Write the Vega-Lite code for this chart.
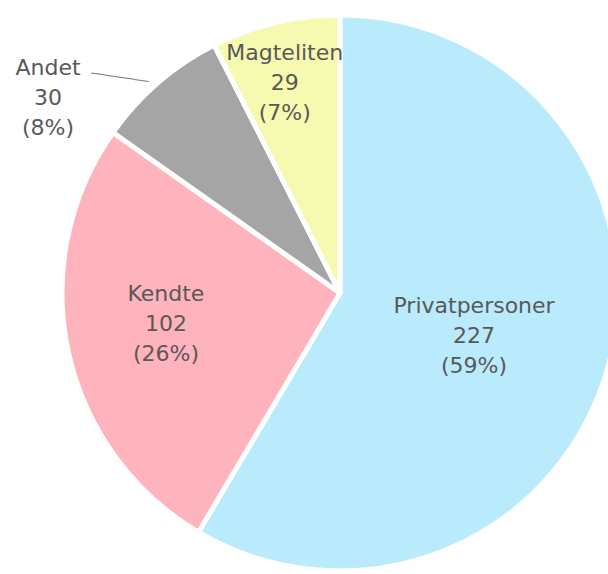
{
  "$schema": "https://vega.github.io/schema/vega-lite/v6.json",
  "autosize": "none",
  "width": 556,
  "height": 556,
  "padding": {"left": 62, "top": 15, "right": -10, "bottom": 3},
  "background": "white",
  "config": {"view": {"stroke": null}},
  "data": {
    "values": [
      {"kategori": "Privatpersoner", "n": 227, "label": "Privatpersoner\n227\n(59%)"},
      {"kategori": "Kendte", "n": 102, "label": "Kendte\n102\n(26%)"},
      {"kategori": "Andet", "n": 30, "label": "Andet\n30\n(8%)"},
      {"kategori": "Magteliten", "n": 29, "label": "Magteliten\n29\n(7%)"}
    ]
  },
  "encoding": {
    "theta": {"field": "n", "type": "quantitative", "stack": true},
    "order": {"field": "n", "type": "quantitative", "sort": "descending"}
  },
  "layer": [
    {
      "mark": {"type": "arc", "outerRadius": 278, "stroke": "white", "strokeWidth": 5},
      "encoding": {
        "color": {
          "field": "kategori",
          "type": "nominal",
          "scale": {
            "domain": ["Privatpersoner", "Kendte", "Andet", "Magteliten"],
            "range": ["#B9EBFC", "#FFB3BC", "#A5A5A5", "#F5FAB0"]
          },
          "legend": null
        }
      }
    },
    {
      "mark": {"type": "text", "radius": 139, "dy": -24, "font": "DejaVu Sans", "fontSize": 22, "lineHeight": 30, "color": "#595959", "lineBreak": "\n"},
      "encoding": {"text": {"condition": {"test": "datum.kategori === 'Privatpersoner'", "field": "label"}, "value": ""}}
    },
    {
      "mark": {"type": "text", "radius": 178, "dy": -36, "font": "DejaVu Sans", "fontSize": 22, "lineHeight": 30, "color": "#595959", "lineBreak": "\n"},
      "encoding": {"text": {"condition": {"test": "datum.kategori === 'Kendte'", "field": "label"}, "value": ""}}
    },
    {
      "mark": {"type": "text", "radius": 216, "dx": -5, "dy": -30, "font": "DejaVu Sans", "fontSize": 22, "lineHeight": 30, "color": "#595959", "lineBreak": "\n"},
      "encoding": {"text": {"condition": {"test": "datum.kategori === 'Magteliten'", "field": "label"}, "value": ""}}
    },
    {
      "mark": {"type": "text", "radius": 260, "dx": -122, "dy": -28, "font": "DejaVu Sans", "fontSize": 22, "lineHeight": 30, "color": "#595959", "lineBreak": "\n"},
      "encoding": {"text": {"condition": {"test": "datum.kategori === 'Andet'", "field": "label"}, "value": ""}}
    },
    {
      "mark": {"type": "text", "radius": 308, "dx": -16, "dy": 20, "angle": 8.5, "font": "DejaVu Sans", "fontSize": 12, "color": "#7f7f7f"},
      "encoding": {"text": {"condition": {"test": "datum.kategori === 'Andet'", "value": "────────"}, "value": ""}}
    }
  ]
}
